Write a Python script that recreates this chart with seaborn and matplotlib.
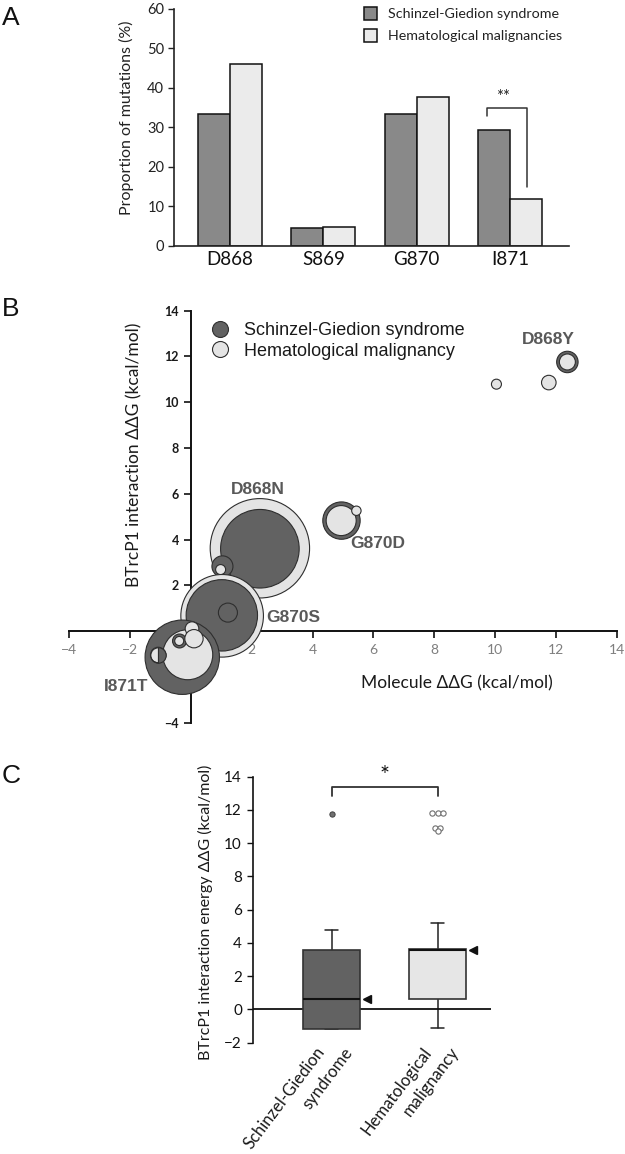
import matplotlib
matplotlib.use("Agg")
import matplotlib.pyplot as plt
import seaborn as sns
import pandas as pd
import numpy as np
from matplotlib import font_manager, transforms
from matplotlib.lines import Line2D

# ---------------- data ----------------
# Panel A
a_positions = ["D868", "S869", "G870", "I871"]
a_groups = ["Schinzel-Giedion syndrome", "Hematological malignancies"]
a_sgs = [33.3, 4.4, 33.3, 29.2]
a_hm = [46.0, 4.7, 37.5, 11.9]

# Panel B (bubbles, listed in drawing order)
b_group = ["HM", "SGS", "SGS", "HM", "HM", "SGS", "SGS", "SGS", "HM", "HM",
           "SGS", "HM", "HM", "HM", "SGS", "HM", "HM", "SGS", "HM", "HM", "HM"]
b_x = [2.27, 2.27, 1.04, 0.98, 1.03, 1.02, 1.22, -0.28, -0.10, -1.07,
       -0.37, -0.38, 0.04, 0.105, 4.95, 4.94, 5.44, 12.37, 12.37, 11.76, 10.04]
b_y = [3.62, 3.60, 2.83, 2.69, 0.67, 0.69, 0.81, -1.14, -1.03, -1.04,
       -0.43, -0.43, 0.11, -0.33, 4.83, 4.83, 5.26, 11.76, 11.76, 10.86, 10.79]
b_cases = [111.8, 69.9, 5.0, 1.13, 77.2, 57.7, 4.1, 62.6, 28.3, 2.7,
           2.2, 0.92, 2.1, 3.8, 15.8, 10.2, 1.0, 5.2, 2.9, 2.4, 1.13]
# SGS bubble coinciding with an HM bubble (drawn half-filled)
b_half_x = [-1.07]
b_half_y = [-1.04]
b_half_cases = [2.7]
b_labels = ["D868Y", "D868N", "G870D", "G870S", "I871T"]
b_label_x = [11.75, 2.21, 6.13, 3.36, -2.11]
b_label_y = [12.72, 6.18, 3.82, 0.59, -2.41]
b_legend = ["Schinzel-Giedion syndrome", "Hematological malignancy"]

# Panel C (box summaries)
c_groups = [("Schinzel-Giedion", "syndrome"), ("Hematological", "malignancy")]
c_whislo = [-1.2, -1.11]
c_q1 = [-1.2, 0.63]
c_med = [0.65, 3.60]
c_q3 = [3.58, 3.62]
c_whishi = [4.77, 5.21]
c_marker = [0.65, 3.58]
c_fliers_sgs = [11.78]
c_fliers_hm = [11.82, 11.82, 11.82, 10.90, 10.90, 10.72]

# ---------------- style ----------------
sns.set_style("white")
names = {f.name for f in font_manager.fontManager.ttflist}
NARROW = "Liberation Sans Narrow" if "Liberation Sans Narrow" in names else "Liberation Sans"
plt.rcParams["font.family"] = ["Lato", "DejaVu Sans"]
plt.rcParams["axes.linewidth"] = 1.2

W, H = 625, 1154
fig = plt.figure(figsize=(W / 100, H / 100), dpi=100)


def rect(l, t, r, b):
    return [l / W, 1 - b / H, (r - l) / W, (b - t) / H]


SGS_BAR = "#898989"
HM_BAR = "#ebebeb"
DARK = "#626262"
LIGHT = "#e4e4e4"

# ---------------- Panel A ----------------
axA = fig.add_axes(rect(174, 8.5, 569, 245.7))
dfA = pd.DataFrame({
    "pos": a_positions * 2,
    "grp": [a_groups[0]] * 4 + [a_groups[1]] * 4,
    "val": a_sgs + a_hm,
})
sns.barplot(data=dfA, x="pos", y="val", hue="grp", ax=axA,
            palette={a_groups[0]: SGS_BAR, a_groups[1]: HM_BAR},
            width=0.686, edgecolor="#111111", linewidth=1.1, saturation=1)
axA.set_xlim(-0.6, 3.63)
axA.set_ylim(0, 60)
axA.set_yticks(range(0, 61, 10))
axA.set_xlabel("")
axA.set_ylabel("")
for s in ["top", "right"]:
    axA.spines[s].set_visible(False)
for s in ["left", "bottom"]:
    axA.spines[s].set_color("#222222")
axA.tick_params(axis="y", direction="out", length=4, width=1, pad=3,
                labelsize=10.5, colors="#222222", left=True)
axA.tick_params(axis="x", length=0, pad=4, labelsize=13.5, colors="#111111")
h, l = axA.get_legend_handles_labels()
axA.legend(h, l, loc="upper left", bbox_to_anchor=(364 / W, 1 - 7 / H),
           bbox_transform=fig.transFigure, frameon=False, fontsize=10.3,
           handlelength=0.9, handleheight=1.0, handletextpad=0.8,
           labelspacing=0.6, borderpad=0, borderaxespad=0)
for t in axA.get_legend().get_texts():
    t.set_color("#222222")
# significance bracket
i3 = 3
xl, xr = i3 - 0.245, i3 + 0.175
ytop = 34.8
axA.plot([xl, xl, xr, xr], [a_sgs[i3] + 3.5, ytop, ytop, a_hm[i3] + 2.9],
         color="#333333", lw=1.1)
axA.text((xl + xr) / 2 - 0.04, ytop + 0.9, "**", ha="center", va="bottom",
         fontsize=12, color="#222222")
fig.text(126 / W, 1 - 117.5 / H, "Proportion of mutations (%)", rotation=90,
         ha="center", va="center", fontsize=11.5, color="#222222")

# ---------------- Panel B ----------------
axB = fig.add_axes(rect(69, 310.7, 617, 722.7))
AREA_PER_CASE = 45.8
dfB = pd.DataFrame({"grp": b_group, "x": b_x, "y": b_y, "cases": b_cases})
sns.scatterplot(data=dfB, x="x", y="y", hue="grp",
                palette={"SGS": DARK, "HM": LIGHT},
                s=(dfB["cases"] * AREA_PER_CASE).values,
                edgecolor="#2e2e2e", linewidth=0.8, legend=False, ax=axB,
                zorder=3)
for hx, hy, hc in zip(b_half_x, b_half_y, b_half_cases):
    axB.plot([hx], [hy], marker="o", ms=np.sqrt(hc * AREA_PER_CASE),
             fillstyle="right", mfc=DARK, mfcalt="none", mec="#2e2e2e",
             mew=0.8, ls="none", zorder=3.5)
axB.set_xlim(-4, 14)
axB.set_ylim(-4, 14)
axB.set_xticks(range(-4, 15, 2))
axB.set_yticks(range(-4, 15, 2))
axB.set_xlabel("")
axB.set_ylabel("")
for s in ["top", "right"]:
    axB.spines[s].set_visible(False)
axB.spines["left"].set_position(("data", 0))
axB.spines["bottom"].set_position(("data", 0))
for s in ["left", "bottom"]:
    axB.spines[s].set_linewidth(1.4)
    axB.spines[s].set_color("#111111")
axB.tick_params(axis="x", direction="out", length=5, width=1.2, pad=4.5,
                labelsize=10, colors="#111111", labelcolor="#7f7f7f", bottom=True)
axB.tick_params(axis="y", direction="out", length=5, width=1.2, pad=3.5,
                labelsize=9, colors="#111111", labelcolor="#1a1a1a", left=True)
for t in axB.get_yticklabels():
    t.set_fontweight("bold")
for lab, lx, ly in zip(b_labels, b_label_x, b_label_y):
    axB.text(lx, ly, lab, ha="center", va="center", fontsize=12.5,
             fontweight="bold", family=NARROW, color="#595959", zorder=5)
legB = [Line2D([], [], marker="o", ls="none", ms=11.5, mfc=DARK, mec="#2e2e2e", mew=0.8),
        Line2D([], [], marker="o", ls="none", ms=11.5, mfc=LIGHT, mec="#2e2e2e", mew=0.8)]
lg = axB.legend(legB, b_legend, loc="upper left", bbox_to_anchor=(211 / W, 1 - 322 / H),
                bbox_transform=fig.transFigure, frameon=False,
                prop={"family": "Liberation Sans", "size": 13},
                handlelength=1.0, handletextpad=0.8, labelspacing=0.2,
                borderpad=0, borderaxespad=0)
for t in lg.get_texts():
    t.set_color("#1a1a1a")
fig.text(457 / W, 1 - 683 / H, "Molecule ΔΔG (kcal/mol)", ha="center", va="center",
         fontsize=12.5, color="#1a1a1a")
fig.text(134 / W, 1 - 455 / H, "BTrcP1 interaction ΔΔG (kcal/mol)", rotation=90,
         ha="center", va="center", fontsize=12.5, color="#1a1a1a")

# ---------------- Panel C ----------------
axC = fig.add_axes(rect(253, 776.7, 491, 1042.7))
stats = []
for i in range(2):
    stats.append({"whislo": c_whislo[i], "q1": c_q1[i], "med": c_med[i],
                  "q3": c_q3[i], "whishi": c_whishi[i], "fliers": []})
bp = axC.bxp(stats, positions=[0, 1], widths=0.538, patch_artist=True,
             showfliers=False, capwidths=0.125,
             medianprops={"color": "#111111", "lw": 1.5},
             whiskerprops={"color": "#222222", "lw": 1.1},
             capprops={"color": "#222222", "lw": 1.1},
             boxprops={"lw": 1.2})
for patch, fc in zip(bp["boxes"], [DARK, "#e6e6e6"]):
    patch.set_facecolor(fc)
    patch.set_edgecolor("#333333")
    patch.set_zorder(3)
for m in bp["medians"]:
    m.set_zorder(4)


def spread(vals, step):
    vals = np.asarray(vals)
    off = np.zeros(len(vals))
    for v in np.unique(vals):
        idx = np.where(vals == v)[0]
        off[idx] = (np.arange(len(idx)) - (len(idx) - 1) / 2) * step
    return off


axC.plot(0 + spread(c_fliers_sgs, 0.058), c_fliers_sgs, "o", ms=3.8,
         mfc="#707070", mec="#404040", mew=0.7, ls="none")
axC.plot(1 + spread(c_fliers_hm, 0.056), c_fliers_hm, "o", ms=3.8,
         mfc="white", mec="#707070", mew=0.8, ls="none")
axC.plot(np.arange(2) + 0.335, c_marker, marker="<", ms=6, color="#111111",
         ls="none", zorder=5)
axC.axhline(0, color="#111111", lw=1.3, zorder=2)
axC.plot([0, 0, 1, 1], [12.86, 13.39, 13.39, 12.86], color="#333333", lw=1.3,
         clip_on=False)
axC.text(0.5, 14.05, "*", ha="center", va="center", fontsize=17, color="#111111")
axC.set_xlim(-0.742, 1.505)
axC.set_ylim(-2, 14)
axC.set_yticks(range(-2, 15, 2))
axC.set_xticks([])
for s in ["top", "right", "bottom"]:
    axC.spines[s].set_visible(False)
axC.spines["left"].set_color("#111111")
axC.tick_params(axis="y", direction="out", length=4, width=1, pad=4,
                labelsize=11, colors="#111111", left=True)
base = axC.get_xaxis_transform()
for i, (l1, l2) in enumerate(c_groups):
    for txt, dx in ((l1, -16), (l2, 12)):
        tr = transforms.offset_copy(base, fig=fig, x=dx * 0.72, y=-1.5 * 0.72, units="points")
        axC.text(i, 0, txt, transform=tr, rotation=53, rotation_mode="anchor",
                 ha="right", va="top", fontsize=12, color="#1a1a1a")
fig.text(205 / W, 1 - 912 / H, "BTrcP1 interaction energy ΔΔG (kcal/mol)", rotation=90,
         ha="center", va="center", fontsize=11.5, color="#1a1a1a")

# panel letters
for letter, top in (("A", 6), ("B", 297), ("C", 764)):
    fig.text(2 / W, 1 - top / H, letter, ha="left", va="top", fontsize=19,
             family="Liberation Sans", color="#111111")

fig.savefig("out.png", dpi=100)
